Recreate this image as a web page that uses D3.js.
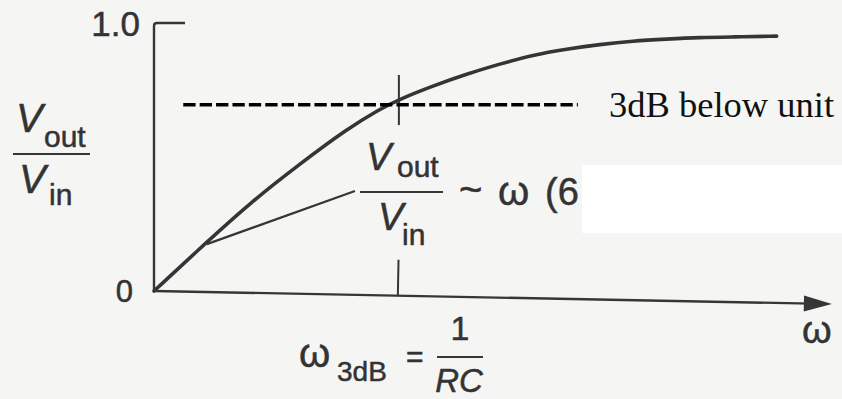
<!DOCTYPE html>
<html>
<head>
<meta charset="utf-8">
<script src="https://cdn.jsdelivr.net/npm/d3@7"></script>
<style>
  html, body { margin: 0; padding: 0; background: #f5f6f4; }
  svg { display: block; }
  text { font-family: "Liberation Sans", Arial, Helvetica, sans-serif; fill: #333; stroke: #333; stroke-width: 0.5; }
</style>
</head>
<body>
<svg id="chart" width="842" height="399"></svg>
<script>
// Frequency axis in units of ω/ω3dB, response as Vout/Vin
const omegaMax = 2.78;
const yTicks = [0, 1];
const yTickLabels = ["0", "1.0"];
const cornerOmega = 1;
const level3dB = 0.695;
const dashSpan = [0.12, 1.738];

// Sampled high-pass response (ω/ω3dB, Vout/Vin)
const omega = [0, 0.217, 0.393, 0.598, 0.791, 0.926, 1.008, 1.143, 1.283, 1.418, 1.553, 1.693, 1.828, 1.963, 2.102, 2.238, 2.373, 2.553];
const gain  = [0, 0.183, 0.328, 0.474, 0.604, 0.679, 0.716, 0.765, 0.810, 0.847, 0.881, 0.903, 0.920, 0.933, 0.940, 0.946, 0.948, 0.951];

// Leader from the low-frequency slope to its annotation
const leader = [[0.217, 0.175], [0.824, 0.373]];

const svg = d3.select("#chart");
const x = d3.scaleLinear().domain([0, omegaMax]).range([154, 832]);
const y = d3.scaleLinear().domain([0, 1]).range([291, 23]);

const ink = "#363636";

// White panel behind the slope note
svg.append("rect").attr("x", 582).attr("y", 165).attr("width", 260).attr("height", 68).attr("fill", "#ffffff");

// Vertical axis with short top tick
svg.append("path")
  .attr("d", `M${x(0)},${y(0)} L${x(0)},${y(1) + 3} Q${x(0)},${y(1)} ${x(0) + 3},${y(1)} L${x(0) + 31},${y(1)}`)
  .attr("fill", "none").attr("stroke", ink).attr("stroke-width", 2.4);

// Horizontal axis (slightly tilted) with arrowhead and corner tick
const xAxis = svg.append("g")
  .attr("transform", `rotate(1.1, ${x(0)}, ${y(0)})`);
xAxis.append("line")
  .attr("x1", x(0)).attr("y1", y(0)).attr("x2", x(omegaMax) - 20).attr("y2", y(0))
  .attr("stroke", ink).attr("stroke-width", 2.4);
xAxis.append("path")
  .attr("d", `M${x(omegaMax)},${y(0)} L${x(omegaMax) - 28},${y(0) - 8} L${x(omegaMax) - 28},${y(0) + 8} Z`)
  .attr("fill", ink);
xAxis.append("line")
  .attr("x1", x(cornerOmega)).attr("x2", x(cornerOmega))
  .attr("y1", y(0)).attr("y2", y(0) - 36)
  .attr("stroke", ink).attr("stroke-width", 2);

// Tick marking the 3 dB point on the curve
svg.append("line")
  .attr("x1", x(cornerOmega) + 1).attr("x2", x(cornerOmega) + 1)
  .attr("y1", y(0.806)).attr("y2", y(0.619))
  .attr("stroke", ink).attr("stroke-width", 2);

// Response curve
const line = d3.line().x(d => x(d[0])).y(d => y(d[1])).curve(d3.curveBasis);
svg.append("path")
  .datum(omega.map((w, i) => [w, gain[i]]))
  .attr("d", line)
  .attr("fill", "none").attr("stroke", "#353535").attr("stroke-width", 3.6)
  .attr("stroke-linecap", "round");

// Leader line
svg.append("path")
  .attr("d", d3.line().x(d => x(d[0])).y(d => y(d[1]))(leader))
  .attr("fill", "none").attr("stroke", ink).attr("stroke-width", 2.2);

// Dashed -3 dB level
svg.append("line")
  .attr("x1", x(dashSpan[0])).attr("x2", x(dashSpan[1]))
  .attr("y1", y(level3dB)).attr("y2", y(level3dB))
  .attr("stroke", "#000").attr("stroke-width", 3.3).attr("stroke-dasharray", "12.3,4.1");

svg.append("text")
  .attr("x", 609).attr("y", y(level3dB) + 12)
  .style("font-family", "'Liberation Serif', 'Times New Roman', serif")
  .style("font-size", "36.5px").style("fill", "#111").style("stroke", "none")
  .text("3dB below unit");

// Y tick labels
svg.append("text").attr("x", 140).attr("y", y(yTicks[1]) + 12.5)
  .attr("text-anchor", "end").style("font-size", "35px").text(yTickLabels[1]);
svg.append("text").attr("x", 133).attr("y", y(yTicks[0]) + 11)
  .attr("text-anchor", "end").style("font-size", "31px").text(yTickLabels[0]);

// Ratio label: italic V over "out", bar, italic V over "in"
function ratio(g, vx, top, barX1, barX2, barY, vSize, subSize, dx, dy) {
  g.append("text").attr("x", vx).attr("y", top)
    .style("font-size", vSize + "px").style("font-style", "italic").text("V");
  g.append("text").attr("x", vx + dx[0]).attr("y", top + dy[0])
    .style("font-size", subSize + "px").text("out");
  g.append("line").attr("x1", barX1).attr("x2", barX2).attr("y1", barY).attr("y2", barY)
    .attr("stroke", ink).attr("stroke-width", 2.2);
  g.append("text").attr("x", vx + dx[1]).attr("y", top + dy[1])
    .style("font-size", vSize + "px").style("font-style", "italic").text("V");
  g.append("text").attr("x", vx + dx[2]).attr("y", top + dy[2])
    .style("font-size", subSize + "px").text("in");
}
ratio(svg, 16, 132, 13, 90, 154, 40, 30, [28, 3, 33], [15, 61, 73]);
ratio(svg, 366, 170, 360, 443, 192, 38, 30, [31, 12, 36], [7, 60, 75]);

// Slope note
svg.append("text").attr("x", 459).attr("y", 203).style("font-size", "40px").text("~");
svg.append("text").attr("x", 498).attr("y", 205).style("font-size", "40px").text("ω");
svg.append("text").attr("x", 545).attr("y", 205).style("font-size", "38px").text("(6");

// Corner frequency label: ω3dB = 1/RC
svg.append("text").attr("x", 299).attr("y", 367).style("font-size", "40px").text("ω");
svg.append("text").attr("x", 337).attr("y", 381).style("font-size", "28px").text("3dB");
svg.append("text").attr("x", 406).attr("y", 367).style("font-size", "30px").text("=");
svg.append("text").attr("x", 460).attr("y", 340).attr("text-anchor", "middle").style("font-size", "34px").text("1");
svg.append("line").attr("x1", 437).attr("x2", 483).attr("y1", 357).attr("y2", 357)
  .attr("stroke", ink).attr("stroke-width", 2.2);
svg.append("text").attr("x", 459).attr("y", 392).attr("text-anchor", "middle")
  .style("font-size", "33px").style("font-style", "italic").text("RC");

// Horizontal axis title
svg.append("text").attr("x", 802).attr("y", 343).style("font-size", "38px").text("ω");
</script>
</body>
</html>
